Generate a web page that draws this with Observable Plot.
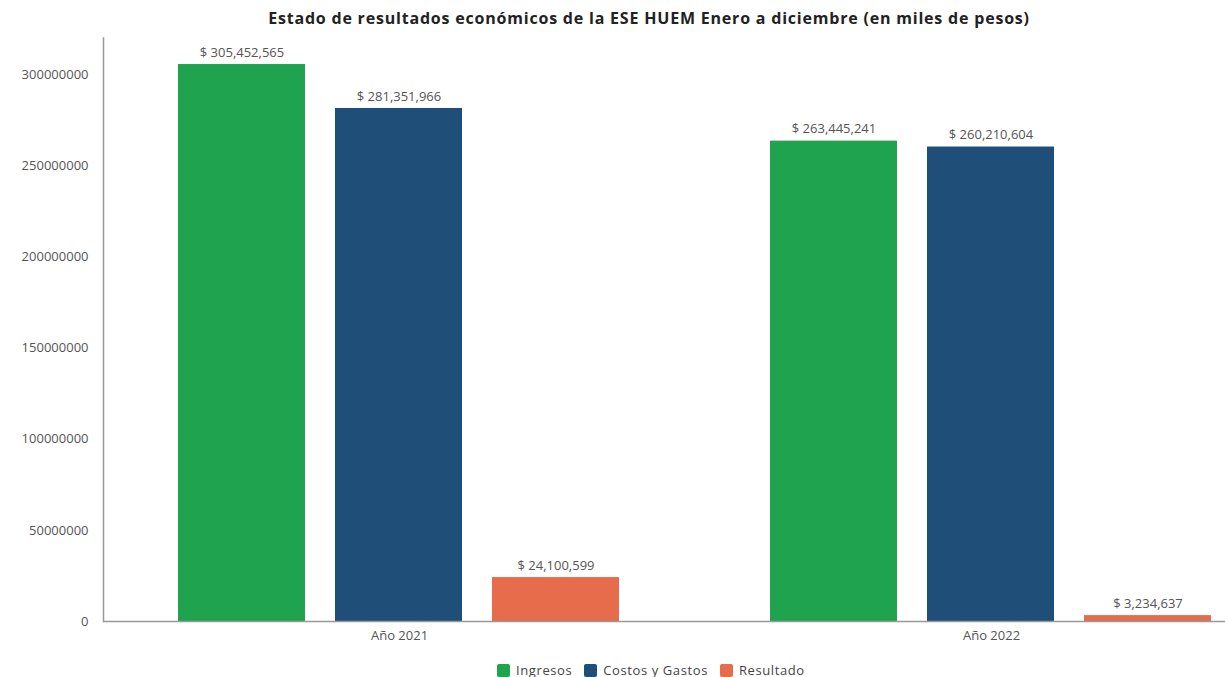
<!DOCTYPE html>
<html>
<head>
<meta charset="utf-8">
<script src="https://cdn.jsdelivr.net/npm/d3@7"></script>
<script src="https://cdn.jsdelivr.net/npm/@observablehq/plot@0.6"></script>
<style>
  html, body { margin: 0; padding: 0; background: #fff; overflow: hidden; }
  body { width: 1225px; height: 677px; position: relative; font-family: "Open Sans", sans-serif; }
  #title { position: absolute; left: 0; top: 0; width: 1298px; height: 36px; line-height: 36px; text-align: center;
           font-weight: 700; font-size: 16px; letter-spacing: 0.8px; color: #222; white-space: nowrap; }
  #chart { position: absolute; left: 0; top: 30px; width: 1225px; height: 621px; overflow: hidden; }
  #chart svg { max-width: none !important; }
  #legend { position: absolute; left: 497px; top: 661px; display: flex; align-items: center; gap: 12px;
            font-size: 13px; letter-spacing: 0.6px; color: #444; line-height: 18px; }
  #legend .item { display: flex; align-items: center; gap: 6px; }
  #legend .sw { width: 13px; height: 13px; border-radius: 2px; display: inline-block; }
</style>
</head>
<body>
<div id="title">Estado de resultados económicos de la ESE HUEM Enero a diciembre (en miles de pesos)</div>
<div id="chart"></div>
<div id="legend"></div>
<script>
const years = ["Año 2021", "Año 2022"];
const series = ["Ingresos", "Costos y Gastos", "Resultado"];
const ingresos = [305452565, 263445241];
const costosGastos = [281351966, 260210604];
const resultado = [24100599, 3234637];
const seriesColors = ["#1fa34f", "#1f4e78", "#e66c4c"];
const yTicks = [0, 50000000, 100000000, 150000000, 200000000, 250000000, 300000000];

const valuesBySeries = [ingresos, costosGastos, resultado];
const rows = [];
years.forEach((yr, i) => {
  series.forEach((s, j) => rows.push({year: yr, series: s, value: valuesBySeries[j][i]}));
});

const fmt = d3.format(",");
const chart = Plot.plot({
  width: 1287,
  height: 621,
  marginLeft: 103,
  marginRight: 0,
  marginTop: 7.5,
  marginBottom: 30,
  style: {fontFamily: "'Open Sans', sans-serif", background: "#fff", maxWidth: "none"},
  fx: {domain: years, padding: 0, label: null, axis: null},
  x: {domain: series, paddingInner: 0.19, paddingOuter: 0.476, axis: null},
  y: {domain: [0, 320000000], axis: null},
  color: {domain: series, range: seriesColors},
  marks: [
    Plot.barY(rows, {fx: "year", x: "series", y: "value", fill: "series"}),
    Plot.ruleY([0], {stroke: "#999", strokeWidth: 1.5}),
    Plot.frame({anchor: "left", facetAnchor: "left", stroke: "#999", strokeWidth: 1.5}),
    Plot.axisY({ticks: yTicks, tickSize: 0, tickPadding: 15, tickFormat: d3.format("d"), label: null,
                fontSize: 13, fill: "#555", facetAnchor: "left", style: {letterSpacing: "1px"}}),
    Plot.axisFx({anchor: "bottom", tickSize: 0, tickPadding: 9, label: null, fontSize: 13, fill: "#555",
                 style: {letterSpacing: "0.6px"}}),
    Plot.text(rows, {fx: "year", x: "series", y: "value", text: d => "$ " + fmt(d.value), dy: -12,
                     fontSize: 13, fill: "#555", style: {letterSpacing: "1.4px"}})
  ]
});
chart.style.maxWidth = "none";
document.getElementById("chart").appendChild(chart);

const legend = document.getElementById("legend");
series.forEach((s, j) => {
  const item = document.createElement("span");
  item.className = "item";
  const sw = document.createElement("span");
  sw.className = "sw";
  sw.style.background = seriesColors[j];
  item.appendChild(sw);
  item.appendChild(document.createTextNode(s));
  legend.appendChild(item);
});
</script>
</body>
</html>
